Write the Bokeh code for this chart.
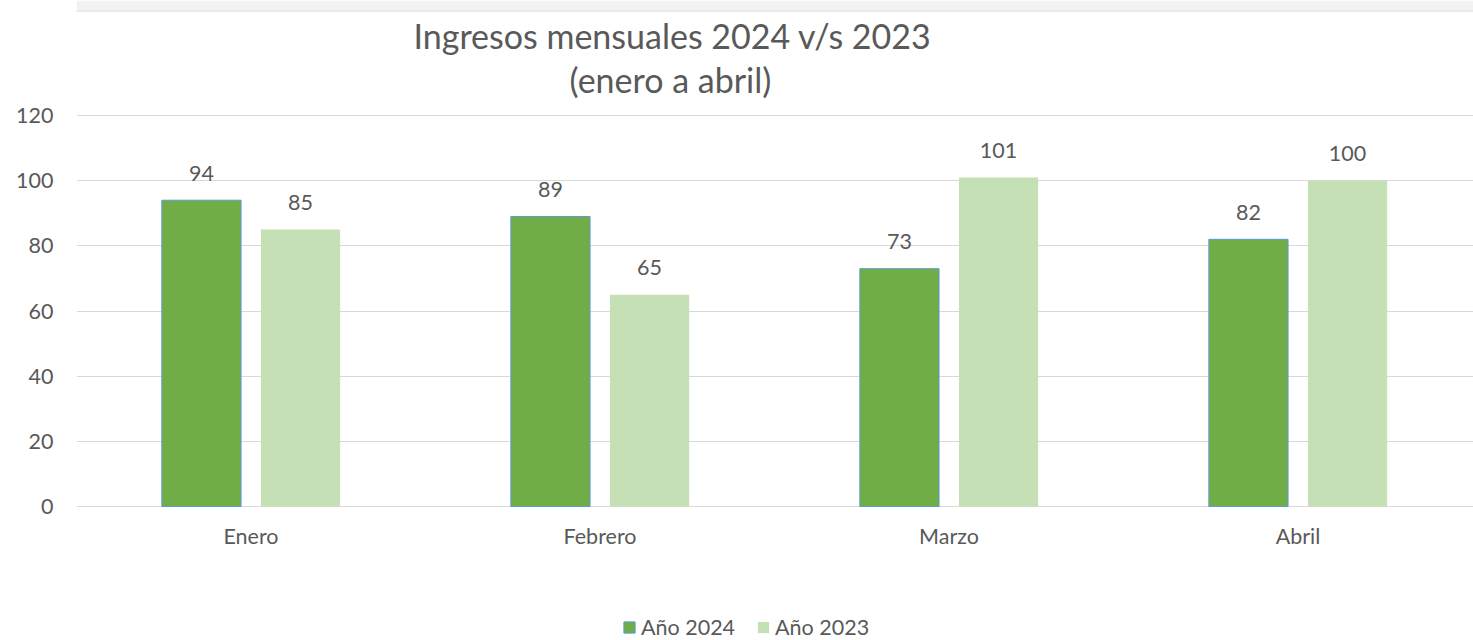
from bokeh.plotting import figure
from bokeh.models import Range1d, FixedTicker, Label, Legend, LegendItem, ColumnDataSource, BoxAnnotation, Span
from bokeh.core.properties import value
from bokeh.transform import dodge
from bokeh.embed import file_html
from bokeh.resources import INLINE

months = ["Enero", "Febrero", "Marzo", "Abril"]
y2024 = [94, 89, 73, 82]
y2023 = [85, 65, 101, 100]
y_ticks = [0, 20, 40, 60, 80, 100, 120]
title1 = "Ingresos mensuales 2024 v/s 2023"
title2 = "(enero a abril)"
series_names = ["Año 2024", "Año 2023"]

FONT = "Lato"
TXT = "#595959"
C24 = "#70ad47"
C23 = "#c5e0b4"
FS = "21.5px"

# layout (pixels)
W, H = 1473, 640
LEFT = 76
Y0_PX, Y120_PX = 506, 115
CAT_PX = 349
ppu = (Y0_PX - Y120_PX) / 120.0


def ydat(py):
    return (Y0_PX - py) / ppu


def xdat(px):
    return (px - LEFT) / CAT_PX


xpos = [i + 0.5 for i in range(len(months))]
src = ColumnDataSource(dict(x=xpos, a=y2024, b=y2023, m=months,
                            zero=[0] * len(months),
                            la=[str(v) for v in y2024], lb=[str(v) for v in y2023]))

p = figure(width=W, height=H, output_backend="svg", toolbar_location=None, title=None,
           x_range=Range1d(0, xdat(W)), y_range=Range1d(ydat(H), ydat(0)),
           x_axis_location=None,
           min_border_left=LEFT, min_border_right=0, min_border_top=0, min_border_bottom=0)
p.outline_line_color = None
p.background_fill_color = "white"
p.border_fill_color = "white"
p.xgrid.visible = False

# top grey strip of the chart frame
p.add_layout(BoxAnnotation(bottom=ydat(10), fill_color="#f2f2f2", fill_alpha=1, line_color=None))
p.add_layout(Span(location=ydat(10.5), dimension="width", line_color="#e4e4e4", line_width=1.5))

off = 0.142
bw = 0.227
r24 = p.vbar(x=dodge("x", -off, range=p.x_range), top="a", width=bw, source=src,
             fill_color=C24, line_color="#5b9bd5", line_width=1)
r23 = p.vbar(x=dodge("x", off, range=p.x_range), top="b", width=bw, source=src,
             fill_color=C23, line_color=None)

p.text(x=dodge("x", -off, range=p.x_range), y="a", text="la", source=src,
       text_align="center", text_baseline="alphabetic", y_offset=-27,
       text_font=value(FONT), text_font_size=FS, text_color=TXT)
p.text(x=dodge("x", off, range=p.x_range), y="b", text="lb", source=src,
       text_align="center", text_baseline="alphabetic", y_offset=-27,
       text_font=value(FONT), text_font_size=FS, text_color=TXT)

# category labels under the zero line
p.text(x="x", y="zero", text="m", source=src, text_align="center", text_baseline="alphabetic",
       y_offset=29, text_font=value(FONT), text_font_size=FS, text_color=TXT)

# y axis
p.yaxis.ticker = FixedTicker(ticks=y_ticks)
p.yaxis.axis_line_color = None
p.yaxis.major_tick_line_color = None
p.yaxis.minor_tick_line_color = None
p.yaxis.major_label_standoff = 17
p.yaxis.major_label_text_font = FONT
p.yaxis.major_label_text_font_size = FS
p.yaxis.major_label_text_color = TXT

p.ygrid.grid_line_color = "#d9d9d9"
p.ygrid.grid_line_width = 1

# title
p.add_layout(Label(x=xdat(672), y=ydat(35), text=title1, text_align="center",
                   text_baseline="middle", text_font=FONT, text_font_size="34px", text_color=TXT))
p.add_layout(Label(x=xdat(670), y=ydat(79), text=title2, text_align="center",
                   text_baseline="middle", text_font=FONT, text_font_size="34px", text_color=TXT))

legend = Legend(items=[LegendItem(label=series_names[0], renderers=[r24]),
                       LegendItem(label=series_names[1], renderers=[r23])],
                location=(622 - LEFT, 0), orientation="horizontal",
                glyph_width=14, glyph_height=14, label_standoff=5, spacing=21,
                padding=0, margin=0, border_line_color=None, background_fill_alpha=0,
                label_text_font=FONT, label_text_font_size=FS, label_text_color=TXT,
                label_height=20)
p.add_layout(legend, "center")

open("out.html", "w").write(file_html(p, INLINE))
